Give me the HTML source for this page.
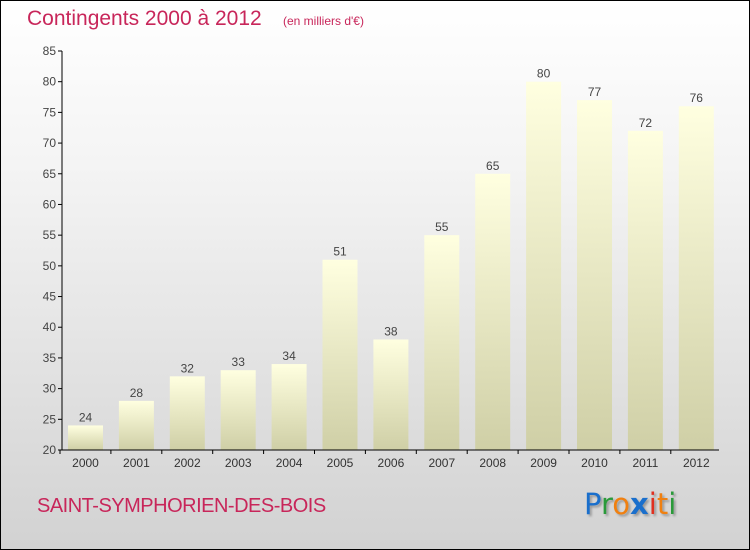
<!DOCTYPE html>
<html><head><meta charset="utf-8"><style>
body{margin:0}
#wrap{position:relative;width:748px;height:548px;border:1px solid #000;background:linear-gradient(#ffffff,#f4f4f4 30%,#d2d2d2);font-family:"Liberation Sans",sans-serif;overflow:hidden}
#title{position:absolute;left:26px;top:6px;font-size:21px;color:#c8265a}
#unit{position:absolute;left:282px;top:13px;font-size:12px;color:#c8265a}
#city{position:absolute;left:36px;top:494px;font-size:20px;color:#c8265a;letter-spacing:-0.5px}
#logo{position:absolute;left:583px;top:486px;font-size:29px;font-family:"DejaVu Sans",sans-serif;text-shadow:2px 2px 2px #999}
</style></head><body>
<div id="wrap">
<div id="title">Contingents 2000 à 2012</div>
<div id="unit">(en milliers d'€)</div>
<svg id="chart" width="748" height="548" style="position:absolute;left:0;top:0">
<defs><linearGradient id="bg" x1="0" y1="0" x2="0" y2="1"><stop offset="0" stop-color="#ffffe0"/><stop offset="1" stop-color="#cfcfa6"/></linearGradient></defs>
<g id="g"></g></svg>
<div id="city">SAINT-SYMPHORIEN-DES-BOIS</div>
<div id="logo"><span style="color:#1a6fcc">P</span><span style="color:#2a9a3a">r</span><span style="color:#f08010">o</span><span style="color:#1a6fcc;font-weight:bold">x</span><span style="color:#e03020">i</span><span style="color:#f08010">t</span><span style="color:#2a9a3a">i</span></div>
</div>
<script>
const years=["2000","2001","2002","2003","2004","2005","2006","2007","2008","2009","2010","2011","2012"];
const values=[24,28,32,33,34,51,38,55,65,80,77,72,76];
const ticks=[20,25,30,35,40,45,50,55,60,65,70,75,80,85];
const NS="http://www.w3.org/2000/svg";
const g=document.getElementById('g');
const y0=449,ppu=399/65,ymin=20;
const y=v=>y0-(v-ymin)*ppu;
const x=i=>67+i*50.9;
function mk(t,a){const e=document.createElementNS(NS,t);for(const k in a)e.setAttribute(k,a[k]);g.appendChild(e);return e;}
ticks.forEach(t=>{
 mk('line',{x1:57,x2:61,y1:y(t),y2:y(t),stroke:'#000'});
 const tx=mk('text',{x:55,y:y(t)+4,'text-anchor':'end','font-size':12,fill:'#444','font-family':'Liberation Sans, sans-serif'});
 tx.textContent=t;
 
 
});
values.forEach((v,i)=>{
 const r=mk('rect',{x:x(i),y:y(v),width:35,height:y0-y(v),fill:'url(#bg)'});
 
 
 const t=mk('text',{x:x(i)+17.5,y:y(v)-4,'text-anchor':'middle','font-size':12,fill:'#444','font-family':'Liberation Sans, sans-serif'});
 t.textContent=v;
 
 
 const yl=mk('text',{x:x(i)+17.5,y:466,'text-anchor':'middle','font-size':12,fill:'#333','font-family':'Liberation Sans, sans-serif'});
 yl.textContent=years[i];
 
 
 mk('line',{x1:x(i)-8,x2:x(i)-8,y1:y0,y2:y0+4,stroke:'#000'});
});
const ya=mk('line',{x1:61,x2:61,y1:y(85),y2:y0,stroke:'#000'});


const xa=mk('line',{x1:61,x2:718,y1:y0,y2:y0,stroke:'#000'});


</script>
</body></html>
